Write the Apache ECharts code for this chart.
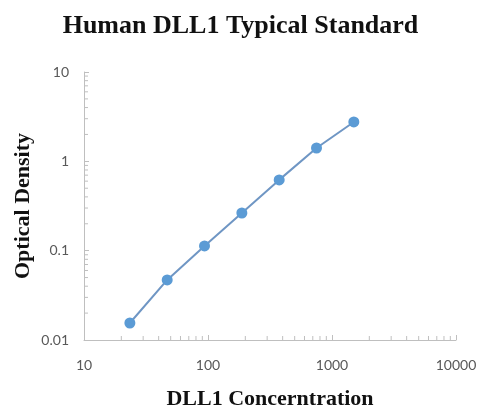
<!DOCTYPE html>
<html><head><meta charset="utf-8">
<script src="https://cdn.jsdelivr.net/npm/echarts@6/dist/echarts.min.js"></script>
<style>html,body{margin:0;padding:0;background:#fff}#c{width:481px;height:410px}</style>
</head><body><div id="c"></div>
<script>
var concentrations = [23.44, 46.88, 93.75, 187.5, 375, 750, 1500];
var opticalDensity = [0.0155, 0.047, 0.113, 0.264, 0.62, 1.41, 2.76];
var xTickLabels = ['10', '100', '1000', '10000'];
var yTickLabels = ['0.01', '0.1', '1', '10'];
var titleText = 'Human DLL1 Typical Standard';
var xName = 'DLL1 Concerntration';
var yName = 'Optical Density';

function minorValues(lo, hi) {
  var out = [];
  for (var d = lo; d < hi; d *= 10) {
    for (var k = 2; k <= 9; k++) out.push(+(d * k).toPrecision(6));
  }
  return out;
}
var xMinor = minorValues(10, 10000);
var yMinor = minorValues(0.01, 10);

function fmt(list) {
  return function (v) {
    var e = Math.round(Math.log10(v));
    for (var i = 0; i < list.length; i++) {
      if (Math.round(Math.log10(parseFloat(list[i]))) === e) return list[i];
    }
    return '';
  };
}

var chart = echarts.init(document.getElementById('c'));
var labelFont = {color: '#595959', fontSize: 14, fontFamily: 'Lato'};
var axisLineColor = '#bfbfbf';
var nameFont = {fontFamily: 'Liberation Serif', fontWeight: 'bold', fontSize: 22, color: '#111'};

chart.setOption({
  animation: false,
  backgroundColor: '#fff',
  title: {
    text: titleText, left: 'center', top: 8,
    textStyle: {fontFamily: 'Liberation Serif', fontWeight: 'bold', fontSize: 26, color: '#111'}
  },
  grid: {left: 84, right: 25, top: 72, bottom: 70, containLabel: false, outerBoundsMode: 'none'},
  xAxis: {
    type: 'log', logBase: 10, min: 10, max: 10000,
    name: xName, nameLocation: 'middle', nameGap: 48, nameMoveOverlap: false,
    nameTextStyle: nameFont,
    axisLine: {show: true, lineStyle: {color: axisLineColor}},
    axisTick: {show: true, inside: true, length: 5, lineStyle: {color: axisLineColor}},
    axisLabel: Object.assign({margin: 18, formatter: fmt(xTickLabels)}, labelFont),
    splitLine: {show: false}
  },
  yAxis: {
    type: 'log', logBase: 10, min: 0.01, max: 10,
    name: yName, nameLocation: 'middle', nameGap: 50, nameMoveOverlap: false,
    nameTextStyle: nameFont,
    axisLine: {show: true, lineStyle: {color: axisLineColor}},
    axisTick: {show: true, inside: true, length: 5, lineStyle: {color: axisLineColor}},
    axisLabel: Object.assign({margin: 15, formatter: fmt(yTickLabels)}, labelFont),
    splitLine: {show: false}
  },
  series: [
    {
      type: 'custom', silent: true, clip: false, z: 1,
      data: xMinor.map(function (v) { return [v]; }),
      renderItem: function (params, api) {
        var p = api.coord([api.value(0), 0.01]);
        return {type: 'line', shape: {x1: p[0], y1: p[1], x2: p[0], y2: p[1] - 4},
          style: {stroke: axisLineColor, lineWidth: 1}};
      }
    },
    {
      type: 'custom', silent: true, clip: false, z: 1,
      data: yMinor.map(function (v) { return [10, v]; }),
      encode: {x: 0, y: 1},
      renderItem: function (params, api) {
        var p = api.coord([10, api.value(1)]);
        return {type: 'line', shape: {x1: p[0], y1: p[1], x2: p[0] + 4, y2: p[1]},
          style: {stroke: axisLineColor, lineWidth: 1}};
      }
    },
    {
      type: 'line', z: 3,
      data: concentrations.map(function (x, i) { return [x, opticalDensity[i]]; }),
      symbol: 'circle', symbolSize: 11,
      itemStyle: {color: '#5b9bd5'},
      lineStyle: {color: '#6f96c4', width: 2}
    }
  ]
});
</script></body></html>
